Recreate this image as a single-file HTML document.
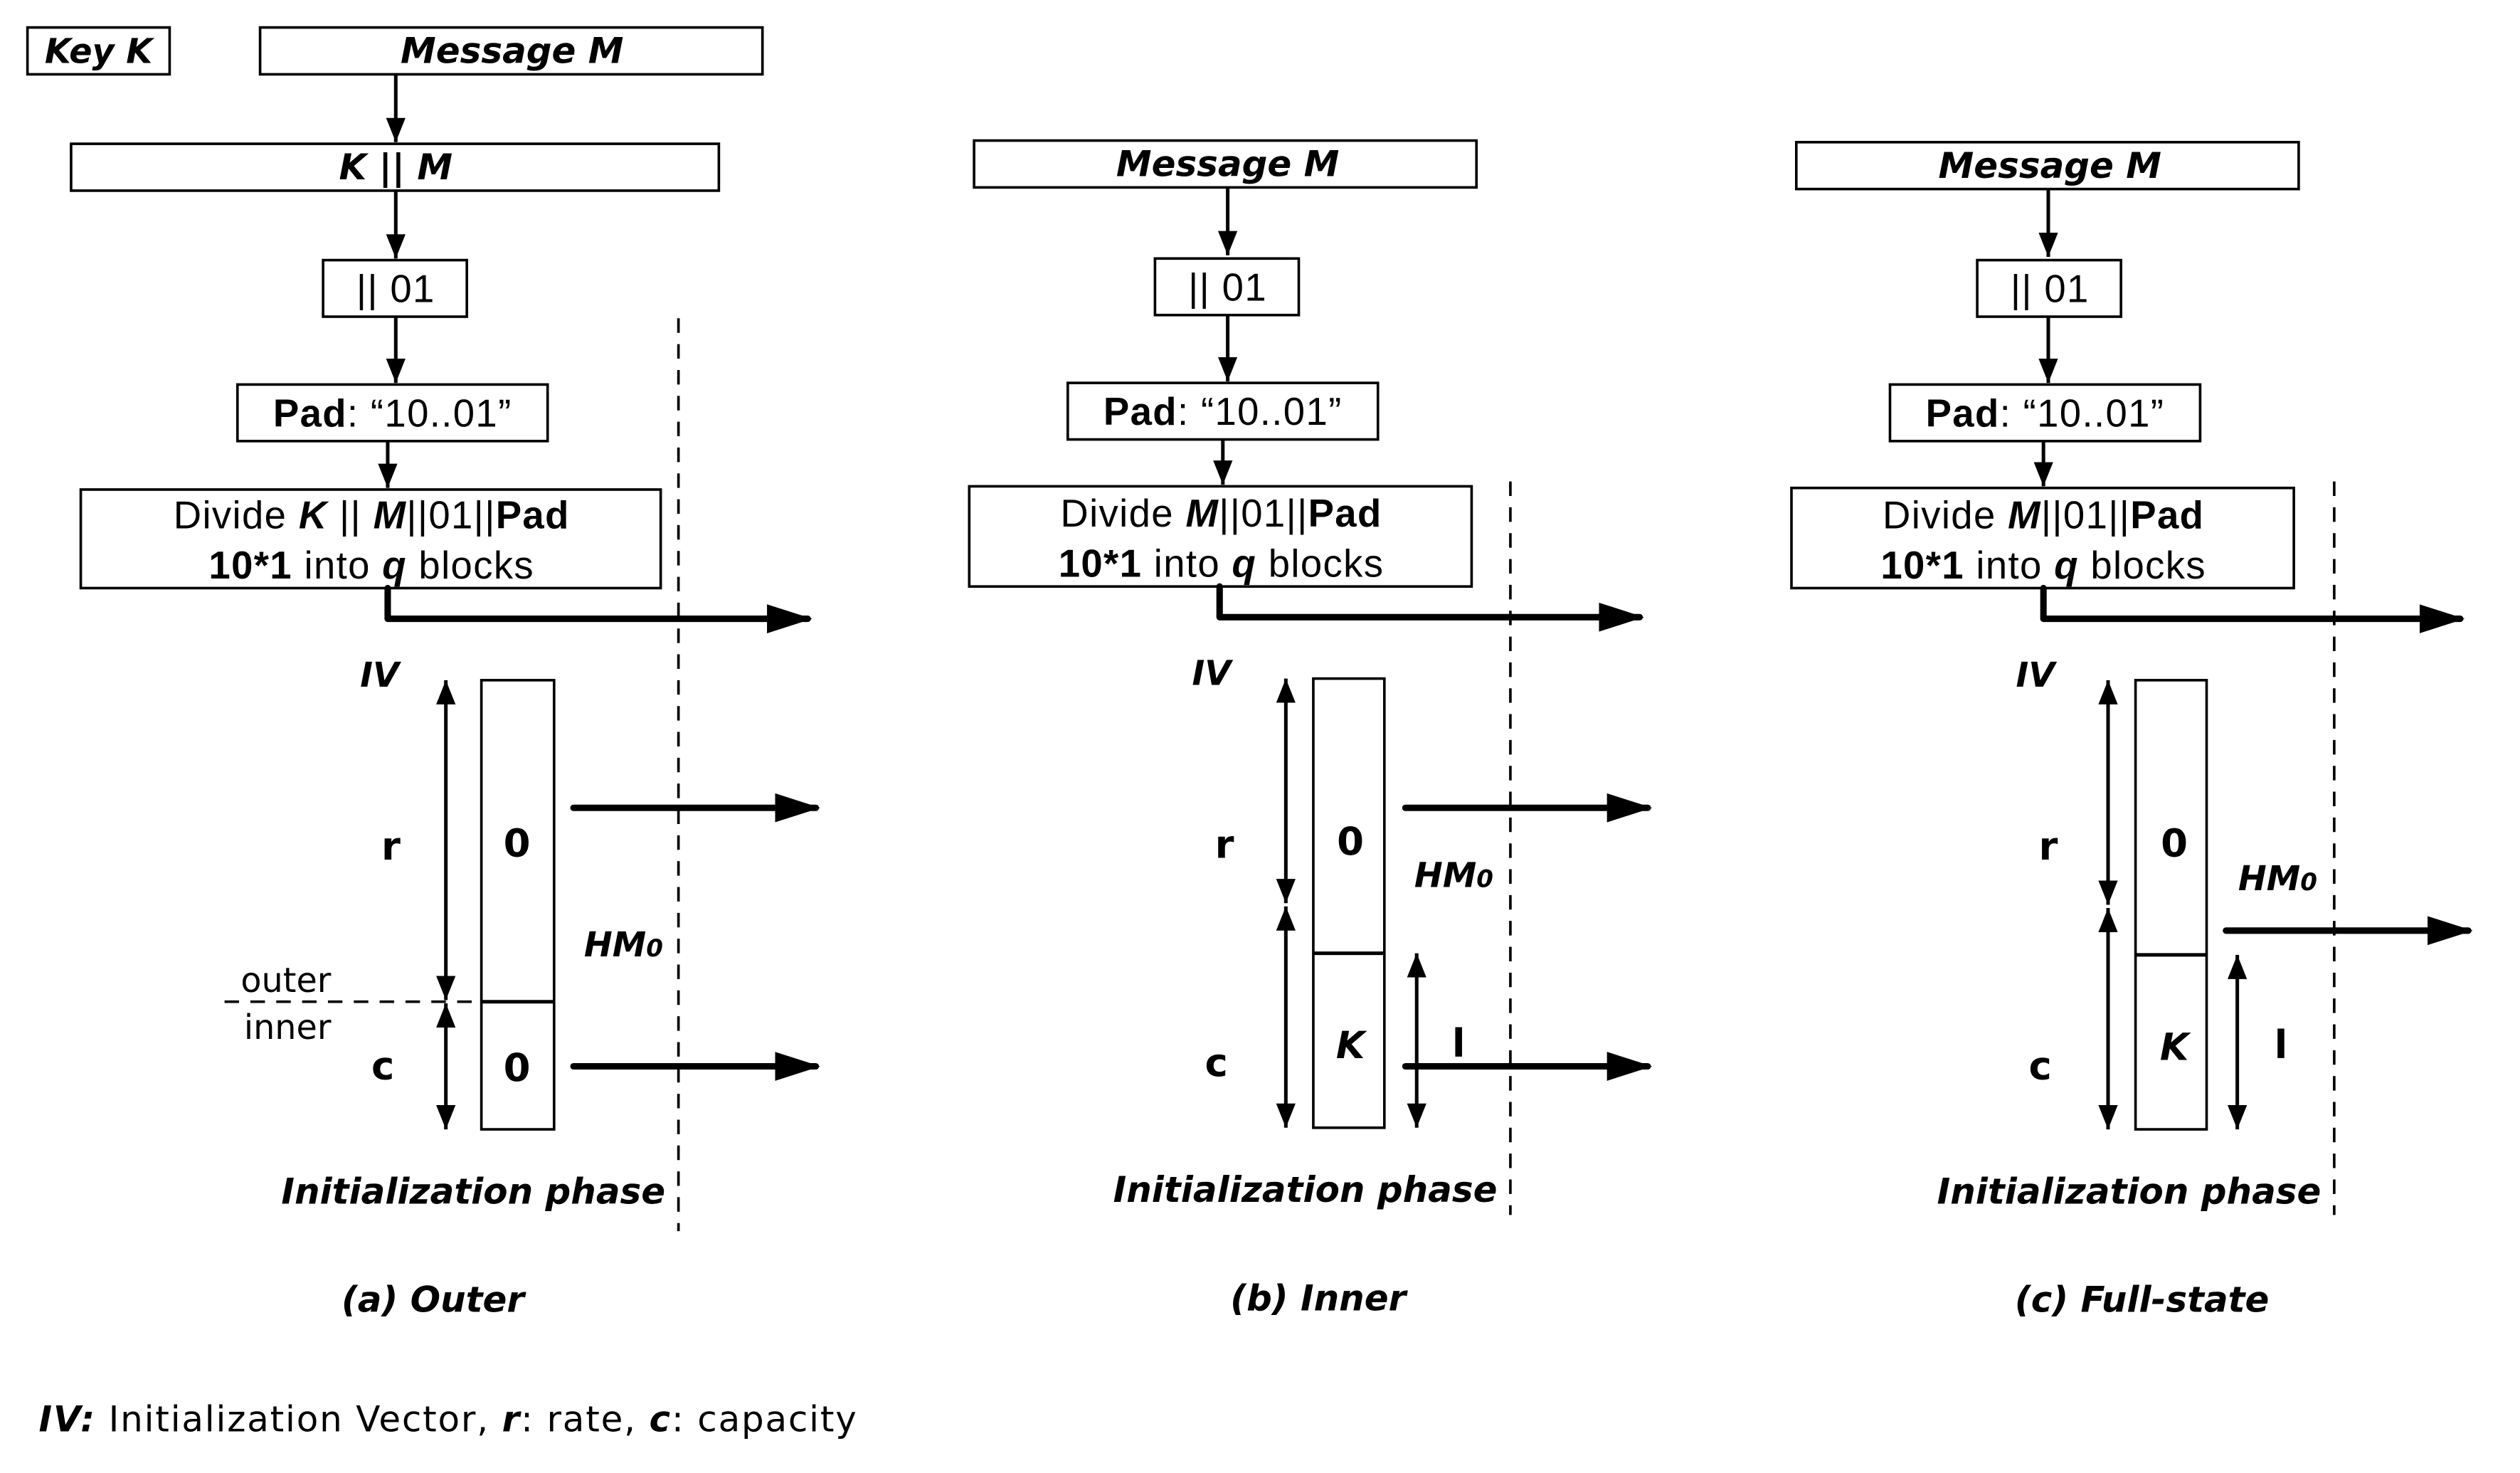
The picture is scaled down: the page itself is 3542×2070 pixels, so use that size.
<!DOCTYPE html>
<html><head><meta charset="utf-8"><style>
html,body{margin:0;padding:0;background:#fff;}
svg{display:block}
.box{fill:#fff;stroke:#000;stroke-width:1.6}
.t{font-family:"Liberation Sans",sans-serif;font-size:24px;letter-spacing:0.6px;fill:#000}
.bi{font-family:"DejaVu Sans",sans-serif;font-weight:bold;font-style:italic;fill:#000}
.d{font-family:"DejaVu Sans",sans-serif;fill:#000}
.ln{stroke:#000;stroke-width:2.2;fill:none}
.th{stroke:#000;stroke-width:4;fill:none;stroke-linejoin:round;stroke-linecap:round}
.dash{stroke:#000;stroke-width:1.6;stroke-dasharray:9,7;fill:none}
</style></head><body>
<svg width="3542" height="2070" viewBox="0 0 1560 911.7" xmlns="http://www.w3.org/2000/svg">
<defs>
<marker id="a" viewBox="0 0 10 10" refX="10" refY="5" markerWidth="15" markerHeight="15" orient="auto-start-reverse" markerUnits="userSpaceOnUse"><path d="M0,1 L10,5 L0,9z"/></marker>
<marker id="A" viewBox="0 0 10 10" refX="9" refY="5" markerWidth="28" markerHeight="28" orient="auto" markerUnits="userSpaceOnUse"><path d="M0,1.8 L10,5 L0,8.2z"/></marker>
</defs>

<!-- Panel a -->
<rect class="box" x="17" y="17" width="88" height="29"/>
<text class="bi" x="61" y="39" font-size="21" text-anchor="middle">Key K</text>
<rect class="box" x="161" y="17" width="311" height="29"/>
<text class="bi" x="317" y="39" font-size="22" text-anchor="middle">Message M</text>
<line class="ln" x1="245" y1="46" x2="245" y2="88" marker-end="url(#a)"/>
<rect class="box" x="44" y="89" width="401" height="29"/>
<text class="bi" x="245" y="111" font-size="22" text-anchor="middle">K || M</text>
<line class="ln" x1="245" y1="118" x2="245" y2="160" marker-end="url(#a)"/>
<rect class="box" x="200" y="161" width="89" height="35"/>
<text class="t" x="245" y="187" text-anchor="middle">|| 01</text>
<line class="ln" x1="245" y1="196" x2="245" y2="237" marker-end="url(#a)"/>
<rect class="box" x="147" y="238" width="192" height="35"/>
<text class="t" x="243" y="264" text-anchor="middle"><tspan font-weight="bold">Pad</tspan>: “10..01”</text>
<line class="ln" x1="240" y1="273" x2="240" y2="302" marker-end="url(#a)"/>
<rect class="box" x="50" y="303" width="359" height="61"/>
<text class="t" x="230" y="327" text-anchor="middle">Divide <tspan font-weight="bold" font-style="italic">K</tspan> || <tspan font-weight="bold" font-style="italic">M</tspan>||01||<tspan font-weight="bold">Pad</tspan></text>
<text class="t" x="230" y="358" text-anchor="middle"><tspan font-weight="bold">10*1</tspan> into <tspan font-weight="bold" font-style="italic">q</tspan> blocks</text>
<polyline class="th" points="240,364 240,383 500,383" marker-end="url(#A)"/>
<line class="dash" x1="420" y1="197" x2="420" y2="762"/>
<text class="bi" x="235" y="425" font-size="21" text-anchor="middle">IV</text>
<line class="ln" x1="276" y1="421" x2="276" y2="619" marker-start="url(#a)" marker-end="url(#a)"/>
<line class="ln" x1="276" y1="621" x2="276" y2="699" marker-start="url(#a)" marker-end="url(#a)"/>
<rect class="box" x="298" y="421" width="45" height="278"/>
<line class="ln" x1="298" y1="620" x2="343" y2="620" stroke-width="1.6"/>
<line class="dash" x1="139" y1="620" x2="298" y2="620" stroke-dasharray="6,5"/>
<text class="d" x="320" y="530" font-size="24" font-weight="bold" text-anchor="middle">0</text>
<text class="d" x="320" y="669" font-size="24" font-weight="bold" text-anchor="middle">0</text>
<text class="d" x="242" y="532" font-size="24" font-weight="bold" text-anchor="middle">r</text>
<text class="d" x="237" y="668" font-size="24" font-weight="bold" text-anchor="middle">c</text>
<text class="d" x="177" y="614" font-size="21" text-anchor="middle">outer</text>
<text class="d" x="178" y="643" font-size="21" text-anchor="middle">inner</text>
<line class="th" x1="355" y1="500" x2="505" y2="500" marker-end="url(#A)"/>
<line class="th" x1="355" y1="660" x2="505" y2="660" marker-end="url(#A)"/>
<text class="bi" x="386" y="592" font-size="21" text-anchor="middle">HM<tspan font-size="15">0</tspan></text>
<text class="bi" x="293" y="745" font-size="22" text-anchor="middle">Initialization phase</text>
<text class="bi" x="268" y="812" font-size="22" text-anchor="middle">(a) Outer</text>

<!-- Panel b -->
<rect class="box" x="603" y="87" width="311" height="29"/>
<text class="bi" x="760" y="109" font-size="22" text-anchor="middle">Message M</text>
<line class="ln" x1="760" y1="116" x2="760" y2="158" marker-end="url(#a)"/>
<rect class="box" x="715" y="160" width="89" height="35"/>
<text class="t" x="760" y="186" text-anchor="middle">|| 01</text>
<line class="ln" x1="760" y1="195" x2="760" y2="236" marker-end="url(#a)"/>
<rect class="box" x="661" y="237" width="192" height="35"/>
<text class="t" x="757" y="263" text-anchor="middle"><tspan font-weight="bold">Pad</tspan>: “10..01”</text>
<line class="ln" x1="757" y1="272" x2="757" y2="300" marker-end="url(#a)"/>
<rect class="box" x="600" y="301" width="311" height="62"/>
<text class="t" x="756" y="326" text-anchor="middle">Divide <tspan font-weight="bold" font-style="italic">M</tspan>||01||<tspan font-weight="bold">Pad</tspan></text>
<text class="t" x="756" y="357" text-anchor="middle"><tspan font-weight="bold">10*1</tspan> into <tspan font-weight="bold" font-style="italic">q</tspan> blocks</text>
<polyline class="th" points="755,363 755,382 1015,382" marker-end="url(#A)"/>
<line class="dash" x1="935" y1="298" x2="935" y2="752"/>
<text class="bi" x="750" y="424" font-size="21" text-anchor="middle">IV</text>
<line class="ln" x1="796" y1="420" x2="796" y2="559" marker-start="url(#a)" marker-end="url(#a)"/>
<line class="ln" x1="796" y1="561" x2="796" y2="698" marker-start="url(#a)" marker-end="url(#a)"/>
<rect class="box" x="813" y="420" width="44" height="278"/>
<line class="ln" x1="813" y1="590" x2="857" y2="590" stroke-width="1.6"/>
<text class="d" x="836" y="529" font-size="24" font-weight="bold" text-anchor="middle">0</text>
<text class="bi" x="836" y="655" font-size="23" text-anchor="middle" font-weight="normal">K</text>
<text class="d" x="758" y="531" font-size="24" font-weight="bold" text-anchor="middle">r</text>
<text class="d" x="753" y="666" font-size="24" font-weight="bold" text-anchor="middle">c</text>
<line class="ln" x1="877" y1="590" x2="877" y2="698" marker-start="url(#a)" marker-end="url(#a)"/>
<text class="d" x="903" y="654" font-size="24" font-weight="bold" text-anchor="middle">l</text>
<line class="th" x1="870" y1="500" x2="1020" y2="500" marker-end="url(#A)"/>
<line class="th" x1="870" y1="660" x2="1020" y2="660" marker-end="url(#A)"/>
<text class="bi" x="900" y="549" font-size="21" text-anchor="middle">HM<tspan font-size="15">0</tspan></text>
<text class="bi" x="808" y="744" font-size="22" text-anchor="middle">Initialization phase</text>
<text class="bi" x="816" y="811" font-size="22" text-anchor="middle">(b) Inner</text>

<!-- Panel c -->
<rect class="box" x="1112" y="88" width="311" height="29"/>
<text class="bi" x="1269" y="110" font-size="22" text-anchor="middle">Message M</text>
<line class="ln" x1="1268" y1="117" x2="1268" y2="159" marker-end="url(#a)"/>
<rect class="box" x="1224" y="161" width="89" height="35"/>
<text class="t" x="1269" y="187" text-anchor="middle">|| 01</text>
<line class="ln" x1="1268" y1="196" x2="1268" y2="237" marker-end="url(#a)"/>
<rect class="box" x="1170" y="238" width="192" height="35"/>
<text class="t" x="1266" y="264" text-anchor="middle"><tspan font-weight="bold">Pad</tspan>: “10..01”</text>
<line class="ln" x1="1265" y1="273" x2="1265" y2="301" marker-end="url(#a)"/>
<rect class="box" x="1109" y="302" width="311" height="62"/>
<text class="t" x="1265" y="327" text-anchor="middle">Divide <tspan font-weight="bold" font-style="italic">M</tspan>||01||<tspan font-weight="bold">Pad</tspan></text>
<text class="t" x="1265" y="358" text-anchor="middle"><tspan font-weight="bold">10*1</tspan> into <tspan font-weight="bold" font-style="italic">q</tspan> blocks</text>
<polyline class="th" points="1265,364 1265,383 1523,383" marker-end="url(#A)"/>
<line class="dash" x1="1445" y1="298" x2="1445" y2="752"/>
<text class="bi" x="1260" y="425" font-size="21" text-anchor="middle">IV</text>
<line class="ln" x1="1305" y1="421" x2="1305" y2="560" marker-start="url(#a)" marker-end="url(#a)"/>
<line class="ln" x1="1305" y1="562" x2="1305" y2="699" marker-start="url(#a)" marker-end="url(#a)"/>
<rect class="box" x="1322" y="421" width="44" height="278"/>
<line class="ln" x1="1322" y1="591" x2="1366" y2="591" stroke-width="1.6"/>
<text class="d" x="1346" y="530" font-size="24" font-weight="bold" text-anchor="middle">0</text>
<text class="bi" x="1346" y="656" font-size="23" text-anchor="middle" font-weight="normal">K</text>
<text class="d" x="1268" y="532" font-size="24" font-weight="bold" text-anchor="middle">r</text>
<text class="d" x="1263" y="668" font-size="24" font-weight="bold" text-anchor="middle">c</text>
<line class="ln" x1="1385" y1="591" x2="1385" y2="699" marker-start="url(#a)" marker-end="url(#a)"/>
<text class="d" x="1412" y="655" font-size="24" font-weight="bold" text-anchor="middle">l</text>
<line class="th" x1="1378" y1="576" x2="1528" y2="576" marker-end="url(#A)"/>
<text class="bi" x="1410" y="551" font-size="21" text-anchor="middle">HM<tspan font-size="15">0</tspan></text>
<text class="bi" x="1318" y="745" font-size="22" text-anchor="middle">Initialization phase</text>
<text class="bi" x="1326" y="812" font-size="22" text-anchor="middle">(c) Full-state</text>

<!-- Footer -->
<text class="d" x="24" y="886" font-size="22" letter-spacing="0.8"><tspan font-weight="bold" font-style="italic">IV:</tspan> Initialization Vector, <tspan font-weight="bold" font-style="italic">r</tspan>: rate, <tspan font-weight="bold" font-style="italic">c</tspan>: capacity</text>
</svg>
</body></html>
